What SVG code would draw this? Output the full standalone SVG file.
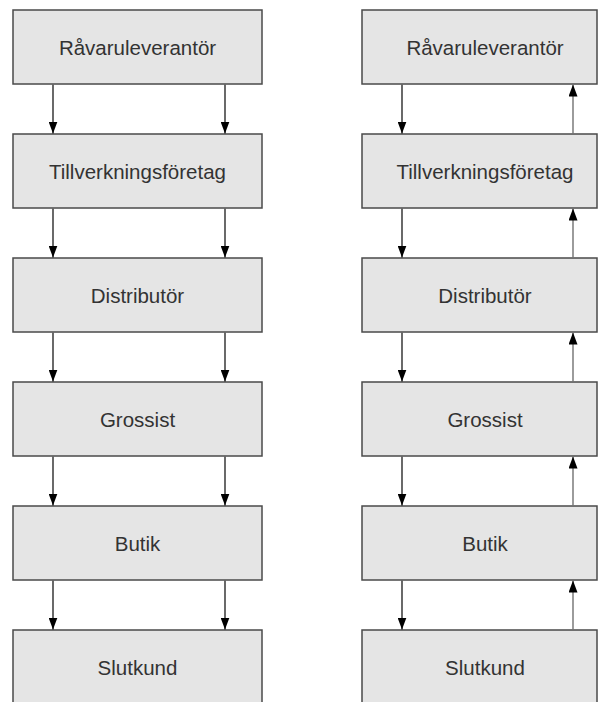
<svg xmlns="http://www.w3.org/2000/svg" width="599" height="702" viewBox="0 0 599 702">
  <style>
    .box { fill: #e5e5e5; stroke: #4a4a4a; stroke-width: 1.5; }
    .lbl { font-family: "Liberation Sans", Arial, sans-serif; font-size: 20.5px; fill: #333333; text-anchor: middle; dominant-baseline: central; }
    .down { stroke: #1a1a1a; stroke-width: 1.3; fill: none; marker-end: url(#head); }
    .up { stroke: #666666; stroke-width: 1.3; fill: none; marker-end: url(#head); }
  </style>
  <defs>
    <marker id="head" viewBox="0 0 12 9" refX="12" refY="4.5" markerWidth="12" markerHeight="9" markerUnits="userSpaceOnUse" orient="auto">
      <path d="M0,0 L12,4.5 L0,9 Z" fill="#000000"/>
    </marker>
  </defs>

  <rect width="599" height="702" fill="#ffffff"/>

  <!-- left chain: material flow only -->
  <g id="L1"><rect class="box" x="13" y="10" width="249" height="74"/><text class="lbl" x="137.5" y="47">Råvaruleverantör</text></g>
  <g id="L2"><rect class="box" x="13" y="134" width="249" height="74"/><text class="lbl" x="137.5" y="171">Tillverkningsföretag</text></g>
  <g id="L3"><rect class="box" x="13" y="258" width="249" height="74"/><text class="lbl" x="137.5" y="295">Distributör</text></g>
  <g id="L4"><rect class="box" x="13" y="382" width="249" height="74"/><text class="lbl" x="137.5" y="419">Grossist</text></g>
  <g id="L5"><rect class="box" x="13" y="506" width="249" height="74"/><text class="lbl" x="137.5" y="543">Butik</text></g>
  <g id="L6"><rect class="box" x="13" y="630" width="249" height="74"/><text class="lbl" x="137.5" y="667">Slutkund</text></g>

  <!-- right chain: flow down, information back up -->
  <g id="R1"><rect class="box" x="362" y="10" width="235" height="74"/><text class="lbl" x="485" y="47">Råvaruleverantör</text></g>
  <g id="R2"><rect class="box" x="362" y="134" width="235" height="74"/><text class="lbl" x="485" y="171">Tillverkningsföretag</text></g>
  <g id="R3"><rect class="box" x="362" y="258" width="235" height="74"/><text class="lbl" x="485" y="295">Distributör</text></g>
  <g id="R4"><rect class="box" x="362" y="382" width="235" height="74"/><text class="lbl" x="485" y="419">Grossist</text></g>
  <g id="R5"><rect class="box" x="362" y="506" width="235" height="74"/><text class="lbl" x="485" y="543">Butik</text></g>
  <g id="R6"><rect class="box" x="362" y="630" width="235" height="74"/><text class="lbl" x="485" y="667">Slutkund</text></g>

  <g id="connectors">
    <!-- left column, two downward arrows per gap -->
    <path class="down" d="M53,84.75 V133.5"/><path class="down" d="M225,84.75 V133.5"/>
    <path class="down" d="M53,208.75 V257.5"/><path class="down" d="M225,208.75 V257.5"/>
    <path class="down" d="M53,332.75 V381.5"/><path class="down" d="M225,332.75 V381.5"/>
    <path class="down" d="M53,456.75 V505.5"/><path class="down" d="M225,456.75 V505.5"/>
    <path class="down" d="M53,580.75 V629.5"/><path class="down" d="M225,580.75 V629.5"/>
    <!-- right column, downward and upward -->
    <path class="down" d="M402,84.75 V133.5"/><path class="up" d="M573,133.25 V84.5"/>
    <path class="down" d="M402,208.75 V257.5"/><path class="up" d="M573,257.25 V208.5"/>
    <path class="down" d="M402,332.75 V381.5"/><path class="up" d="M573,381.25 V332.5"/>
    <path class="down" d="M402,456.75 V505.5"/><path class="up" d="M573,505.25 V456.5"/>
    <path class="down" d="M402,580.75 V629.5"/><path class="up" d="M573,629.25 V580.5"/>
  </g>
</svg>
